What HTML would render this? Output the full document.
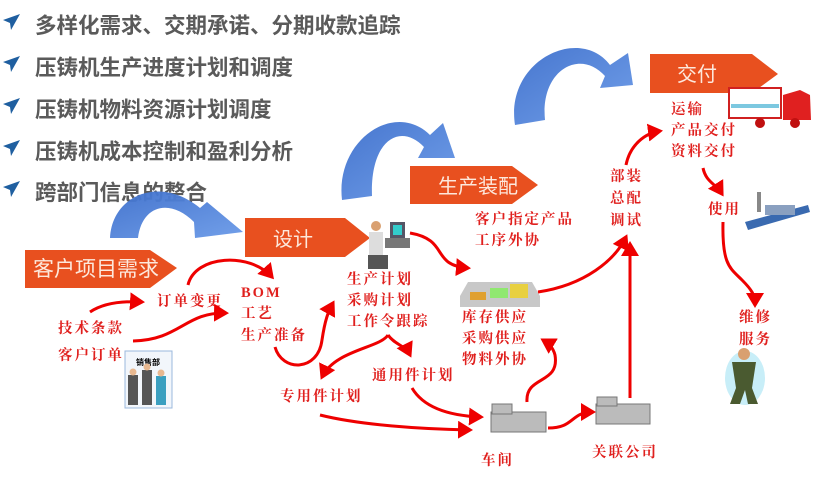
<!DOCTYPE html>
<html><head><meta charset="utf-8"><style>
html,body{margin:0;padding:0;background:#fff;}
svg{display:block;}
.b{font-family:"Liberation Sans","Noto Sans CJK SC",sans-serif;font-weight:bold;font-size:21.5px;fill:#5a5a5a;}
.r{font-family:"Liberation Serif","Noto Serif CJK SC",serif;font-size:14.5px;font-weight:bold;fill:#e0201e;letter-spacing:2px;}
.w{font-family:"Liberation Sans","Noto Sans CJK SC",sans-serif;font-size:20px;fill:#fde8dc;}
.a{fill:none;stroke:#ee0000;stroke-width:3;marker-end:url(#ah);}
</style></head><body>
<svg width="840" height="491" viewBox="0 0 840 491" xmlns="http://www.w3.org/2000/svg">
<defs>
<marker id="ah" markerWidth="6" markerHeight="6" refX="4" refY="3" orient="auto" markerUnits="strokeWidth"><path d="M0,0 L5,3 L0,6 z" fill="#ee0000"/></marker>
<linearGradient id="bg" x1="0" y1="0" x2="1" y2="1"><stop offset="0" stop-color="#3d6fcc"/><stop offset="1" stop-color="#6a9ae8"/></linearGradient>
</defs>
<g>
<g fill="#1f5fa0">
<path d="M3,20 L20,14 L11,30 L10,23 z"/><path d="M3,62 L20,56 L11,72 L10,65 z"/><path d="M3,104 L20,98 L11,114 L10,107 z"/><path d="M3,146 L20,140 L11,156 L10,149 z"/><path d="M3,187 L20,181 L11,197 L10,190 z"/>
</g>
<text class="b" x="35" y="33">多样化需求、交期承诺、分期收款追踪</text>
<text class="b" x="35" y="75">压铸机生产进度计划和调度</text>
<text class="b" x="35" y="117">压铸机物料资源计划调度</text>
<text class="b" x="35" y="159">压铸机成本控制和盈利分析</text>
<text class="b" x="35" y="200">跨部门信息的整合</text>
</g>
<g fill="url(#bg)" opacity="0.95">
<path d="M110,238 C112,195 160,175 200,208 L207,202 L243,232 L195,238 L194,222 C170,198 142,205 138,238 z"/>
<path d="M342,200 C335,140 395,100 430,135 L443,123 L455,158 L418,158 L424,147 C400,122 370,140 372,196 z"/>
<path d="M515,125 C505,60 580,25 610,65 L628,53 L633,85 L600,88 L605,76 C580,48 540,70 545,120 z"/>
</g>
<g fill="#e8501f">
<path d="M25,250 L150,250 L177,268 L150,288 L25,288 z"/>
<path d="M245,218 L345,218 L370,238 L345,257 L245,257 z"/>
<path d="M410,166 L512,166 L538,185 L512,204 L410,204 z"/>
<path d="M650,54 L752,54 L778,74 L752,93 L650,93 z"/>
</g>
<text class="w" x="33" y="276" style="font-size:21px">客户项目需求</text>
<text class="w" x="273" y="246">设计</text>
<text class="w" x="438" y="193">生产装配</text>
<text class="w" x="677" y="81">交付</text>
<rect x="125" y="351" width="47" height="57" fill="#f2f6fb" stroke="#9bb8dc"/>
<text x="136" y="365" style="font-size:8px;font-family:'Noto Sans CJK SC',sans-serif;font-weight:bold">销售部</text>
<g fill="#555"><rect x="128" y="375" width="10" height="30"/><rect x="142" y="370" width="10" height="35"/><rect x="156" y="376" width="10" height="29" fill="#3a9fc0"/></g>
<g fill="#e8b890"><circle cx="133" cy="372" r="3.5"/><circle cx="147" cy="367" r="3.5"/><circle cx="161" cy="373" r="3.5"/></g>
<rect x="390" y="222" width="15" height="16" fill="#556" /><rect x="393" y="225" width="9" height="10" fill="#3cc"/>
<rect x="385" y="238" width="25" height="10" fill="#777"/>
<rect x="369" y="232" width="14" height="24" fill="#ddd"/><circle cx="376" cy="226" r="5" fill="#d9a070"/>
<rect x="368" y="255" width="20" height="14" fill="#555"/>
<path d="M460,296 L468,282 L532,282 L540,296 L540,307 L460,307 z" fill="#c8c8c8"/>
<rect x="470" y="292" width="16" height="8" fill="#e0a030"/><rect x="490" y="288" width="18" height="10" fill="#90e870"/><rect x="510" y="284" width="18" height="14" fill="#e8d040"/>
<g fill="#bbb" stroke="#777" stroke-width="1">
<rect x="491" y="412" width="55" height="20"/><rect x="492" y="404" width="20" height="10"/>
<rect x="596" y="404" width="54" height="20"/><rect x="597" y="397" width="20" height="9"/>
</g>
<rect x="729" y="88" width="52" height="30" fill="#fff" stroke="#d02020" stroke-width="2"/>
<rect x="731" y="104" width="48" height="4" fill="#7cc8e0"/>
<path d="M783,95 L800,90 L810,95 L811,120 L783,120 z" fill="#e02020"/>
<circle cx="795" cy="123" r="5" fill="#c01010"/><circle cx="760" cy="123" r="5" fill="#c01010"/>
<path d="M745,222 L808,205 L810,212 L748,230 z" fill="#3a6ab0"/><rect x="757" y="192" width="4" height="20" fill="#888"/>
<rect x="765" y="205" width="30" height="10" fill="#8aa0c0"/>
<ellipse cx="745" cy="378" rx="20" ry="27" fill="#c8eef8"/>
<path d="M732,362 L756,362 L752,388 L758,404 L748,404 L745,390 L740,404 L730,404 L736,388 z" fill="#4a5a30"/>
<circle cx="744" cy="354" r="6" fill="#d9a070"/>
<text class="r" x="157" y="306">订单变更</text>
<text class="r" x="58" y="333">技术条款</text>
<text class="r" x="58" y="360">客户订单</text>
<text class="r" x="241" y="297">BOM</text>
<text class="r" x="241" y="318">工艺</text>
<text class="r" x="241" y="340">生产准备</text>
<text class="r" x="347" y="284">生产计划</text>
<text class="r" x="347" y="305">采购计划</text>
<text class="r" x="347" y="326">工作令跟踪</text>
<text class="r" x="372" y="380">通用件计划</text>
<text class="r" x="280" y="401">专用件计划</text>
<text class="r" x="475" y="224">客户指定产品</text>
<text class="r" x="475" y="245">工序外协</text>
<text class="r" x="462" y="322">库存供应</text>
<text class="r" x="462" y="343">采购供应</text>
<text class="r" x="462" y="364">物料外协</text>
<text class="r" x="610" y="181">部装</text>
<text class="r" x="610" y="203">总配</text>
<text class="r" x="610" y="225">调试</text>
<text class="r" x="671" y="114">运输</text>
<text class="r" x="671" y="135">产品交付</text>
<text class="r" x="671" y="156">资料交付</text>
<text class="r" x="708" y="214">使用</text>
<text class="r" x="739" y="322">维修</text>
<text class="r" x="739" y="344">服务</text>
<text class="r" x="481" y="465">车间</text>
<text class="r" x="592" y="457">关联公司</text>
<path class="a" d="M90,312 C105,302 125,301 142,302"/>
<path class="a" d="M133,341 C180,340 185,312 226,313"/>
<path class="a" d="M188,285 C195,255 250,252 272,277"/>
<path class="a" d="M275,347 C282,372 318,372 322,340 C325,320 328,312 333,303"/>
<path class="a" d="M388,335 C395,345 405,345 410,355"/>
<path class="a" d="M388,335 C380,348 335,350 322,377"/>
<path class="a" d="M410,233 C450,240 430,265 468,268"/>
<path class="a" d="M412,388 C425,410 455,416 481,417"/>
<path class="a" d="M320,415 C360,425 420,429 470,430"/>
<path class="a" d="M527,402 C525,375 560,385 555,355 C553,347 548,343 543,340"/>
<path class="a" d="M548,428 C575,428 570,412 593,412"/>
<path class="a" d="M630,398 L630,244"/>
<path class="a" d="M538,292 C585,285 615,260 626,237"/>
<path class="a" d="M626,165 C630,145 645,133 660,131"/>
<path class="a" d="M703,168 C706,182 715,183 722,194"/>
<path class="a" d="M723,222 C722,265 730,268 742,280 C752,290 755,295 755,305"/>
</svg>
</body></html>
